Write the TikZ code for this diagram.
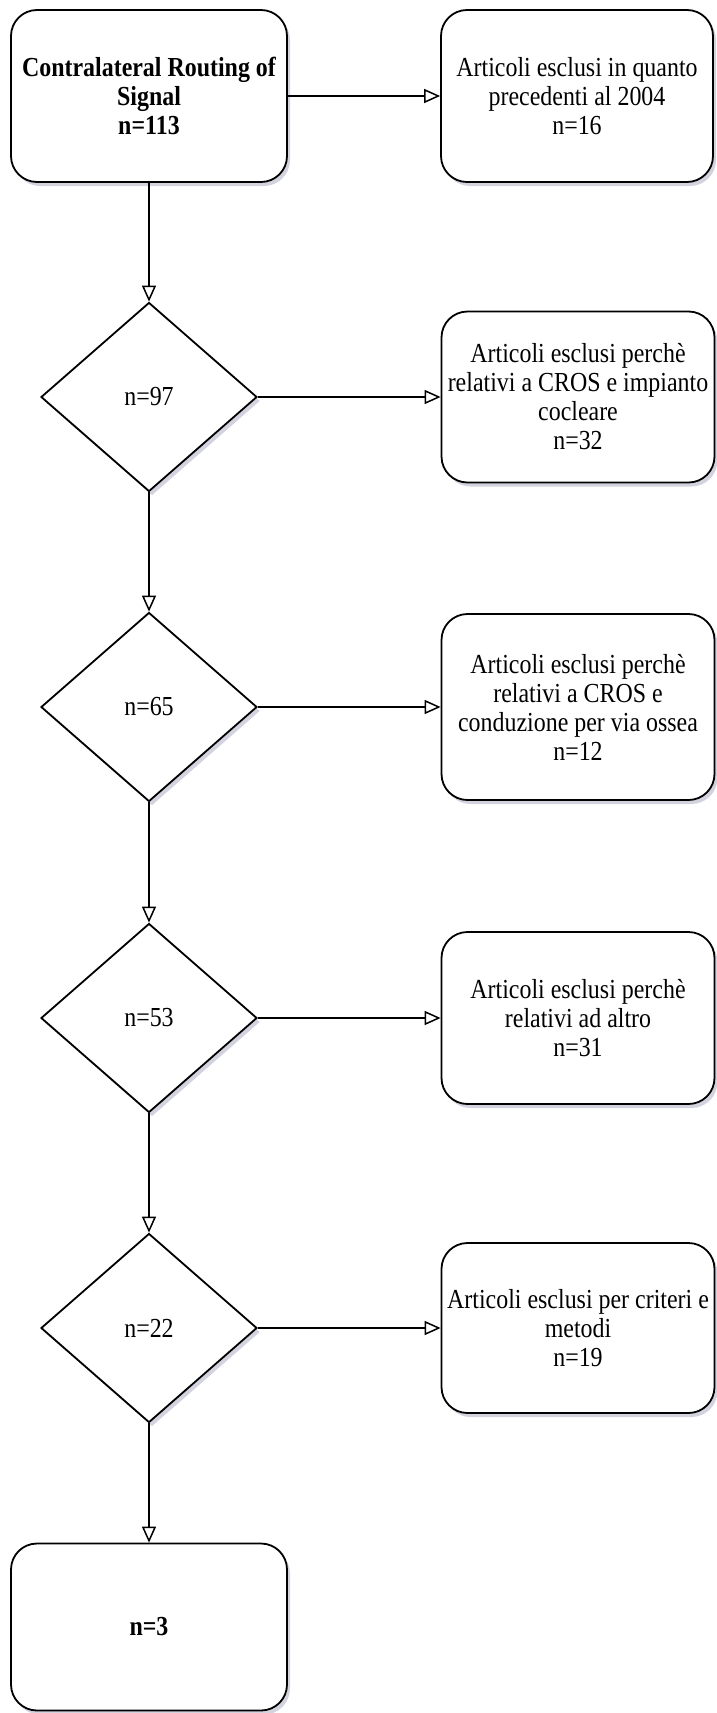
\documentclass[tikz,border=0pt]{standalone}
\usepackage{fontspec}
\setmainfont{Liberation Serif}[FakeStretch=0.87]
\usetikzlibrary{shapes.geometric,arrows.meta,shadows}
\definecolor{shadowcol}{RGB}{110,110,150}
\begin{document}
\begin{tikzpicture}[x=1pt,y=-1pt,
  every node/.style={font=\fontsize{27.5}{29}\selectfont, align=center, inner sep=0pt},
  shad/.style={drop shadow={shadow xshift=3pt, shadow yshift=-4pt, opacity=0.3, fill=shadowcol}},
  rbox/.style={draw, line width=1.8pt, rounded corners=26pt, fill=white, shad,
               minimum width=#1, rectangle},
  rbox/.default=273pt,
  dec/.style={draw, line width=1.8pt, diamond, fill=white, shad,
              minimum width=216pt, minimum height=189pt},
  conn/.style={line width=1.8pt, -{Triangle[fill=white, length=16pt, width=14pt, line width=1.5pt]}}
]
\useasboundingbox (0,0) rectangle (716,1713);

\node[rbox=276pt, minimum height=172pt] (top) at (149,96)
  {\bfseries Contralateral Routing of\\ \bfseries Signal\\ \bfseries n=113};
\node[rbox=272pt, minimum height=172pt] (r1) at (577,96)
  {Articoli esclusi in quanto\\ precedenti al 2004\\ n=16};

\node[dec] (d1) at (149,397) {n=97};
\node[rbox, minimum height=171pt] (r2) at (578,397)
  {Articoli esclusi perchè\\ relativi a CROS e impianto\\ cocleare\\ n=32};

\node[dec] (d2) at (149,707) {n=65};
\node[rbox, minimum height=186pt] (r3) at (578,707)
  {Articoli esclusi perchè\\ relativi a CROS e\\ conduzione per via ossea\\ n=12};

\node[dec] (d3) at (149,1018) {n=53};
\node[rbox, minimum height=172pt] (r4) at (578,1018)
  {Articoli esclusi perchè\\ relativi ad altro\\ n=31};

\node[dec] (d4) at (149,1328) {n=22};
\node[rbox, minimum height=170pt] (r5) at (578,1328)
  {Articoli esclusi per criteri e\\ metodi\\ n=19};

\node[rbox=276pt, minimum height=167pt] (bot) at (149,1627) {\bfseries n=3};

\draw[conn] (top.east) -- (r1.west);
\draw[conn] (d1.east) -- (r2.west);
\draw[conn] (d2.east) -- (r3.west);
\draw[conn] (d3.east) -- (r4.west);
\draw[conn] (d4.east) -- (r5.west);

\draw[conn] (top.south) -- (d1.north);
\draw[conn] (d1.south) -- (d2.north);
\draw[conn] (d2.south) -- (d3.north);
\draw[conn] (d3.south) -- (d4.north);
\draw[conn] (d4.south) -- (bot.north);
\end{tikzpicture}
\end{document}
